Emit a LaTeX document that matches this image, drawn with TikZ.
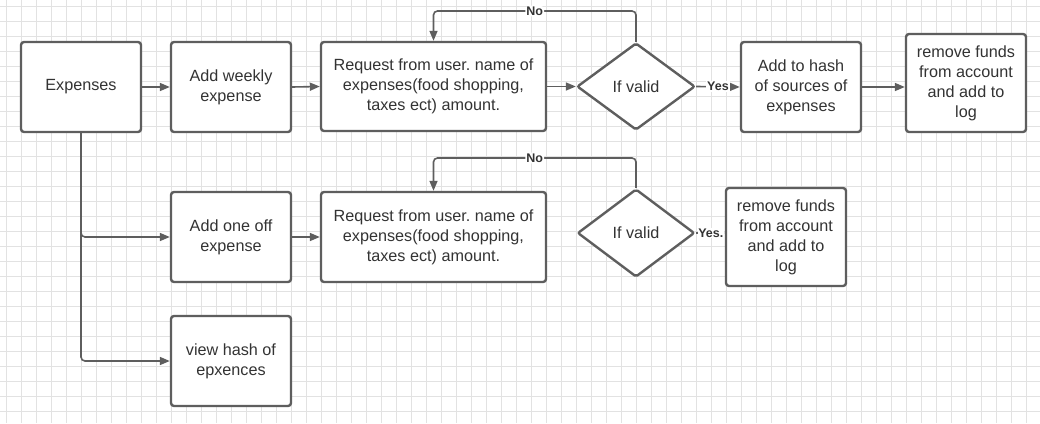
\documentclass[tikz,border=0pt]{standalone}
\usepackage{fontspec}
\setmainfont{Liberation Sans}
\usetikzlibrary{shapes.geometric,arrows.meta}
\definecolor{linec}{HTML}{5E5E5E}
\definecolor{txtc}{HTML}{333333}
\definecolor{gridc}{HTML}{E2E2E2}
\frenchspacing
\tikzset{
  box/.style={draw=linec, line width=2.4pt, rounded corners=3pt, fill=white,
    align=center, text=txtc, inner sep=0pt,
    font=\fontsize{16.2}{20}\selectfont},
  dec/.style={diamond, draw=linec, line width=2.4pt, rounded corners=2pt, fill=white,
    align=center, text=txtc, inner sep=0pt,
    font=\fontsize{16.2}{20}\selectfont},
  conn/.style={draw=linec, line width=1.6pt, -{Triangle[length=10pt,width=8pt]}},
  lbl/.style={fill=white, inner sep=1pt, text=txtc, font=\bfseries\fontsize{12.5}{14}\selectfont}
}
\begin{document}
\begin{tikzpicture}[x=1pt,y=-1pt]
\useasboundingbox (0,0) rectangle (1040,423);
\fill[white] (0,0) rectangle (1040,423);
% grid
\foreach \k in {0,...,68} { \draw[gridc, line width=0.7pt] ({6.7+15*\k},0) -- ({6.7+15*\k},423); }
\foreach \k in {0,...,27} { \draw[gridc, line width=0.7pt] (0,{6.7+15*\k}) -- (1040,{6.7+15*\k}); }

% row 1
\node[box, minimum width=120pt, minimum height=90pt] (exp) at (81,87) {Expenses};
\node[box, minimum width=120pt, minimum height=90pt] (weekly) at (231,87) {Add weekly\\expense};
\node[box, minimum width=225pt, minimum height=89pt] (req1) at (433.5,86.5) {Request from user. name of\\expenses(food shopping,\\taxes ect) amount.};
\node[dec, minimum width=118pt, minimum height=87pt] (d1) at (636,86.5) {If valid};
\node[box, minimum width=120pt, minimum height=90pt] (hash) at (801,87) {Add to hash\\of sources of\\expenses};
\node[box, minimum width=120pt, minimum height=98pt] (rm1) at (966,83) {remove funds\\from account\\and add to\\log};

% row 2
\node[box, minimum width=120pt, minimum height=90pt] (oneoff) at (231,237) {Add one off\\expense};
\node[box, minimum width=225pt, minimum height=90pt] (req2) at (433.5,237) {Request from user. name of\\expenses(food shopping,\\taxes ect) amount.};
\node[dec, minimum width=117pt, minimum height=88pt] (d2) at (636,233) {If valid};
\node[box, minimum width=120pt, minimum height=98pt] (rm2) at (786,237) {remove funds\\from account\\and add to\\log};

% row 3
\node[box, minimum width=120pt, minimum height=90pt] (view) at (231,361) {view hash of\\epxences};

% coordinates for loops
\coordinate (n1) at (636,11);
\coordinate (n2) at (636,158);

% connectors row 1
\draw[conn] (exp.east) -- (weekly.west);
\draw[conn] (weekly.east) -- (req1.west);
\draw[conn] (req1.east) -- (d1.west);
\draw[conn] (d1.east) -- node[lbl] {Yes} (hash.west);
\draw[conn] (hash.east) -- (hash.east -| rm1.west);
\draw[conn, rounded corners=4pt] (d1.north) -- (n1) -- node[lbl, pos=0.5] {No} (n1 -| req1.north) -- (req1.north);

% connectors row 2
\draw[conn] (oneoff.east) -- (req2.west);
\draw[conn, rounded corners=4pt] (d2.north) -- (n2) -- node[lbl, pos=0.5] {No} (n2 -| req2.north) -- (req2.north);
\draw[conn] (d2.east) -- node[lbl, pos=0.52, inner sep=0.5pt] {Yes.} (d2.east -| rm2.west);

% branches from Expenses
\draw[conn, rounded corners=4pt] (exp.south) |- (oneoff.west);
\draw[conn, rounded corners=4pt] (exp.south) |- (view.west);
\end{tikzpicture}
\end{document}
